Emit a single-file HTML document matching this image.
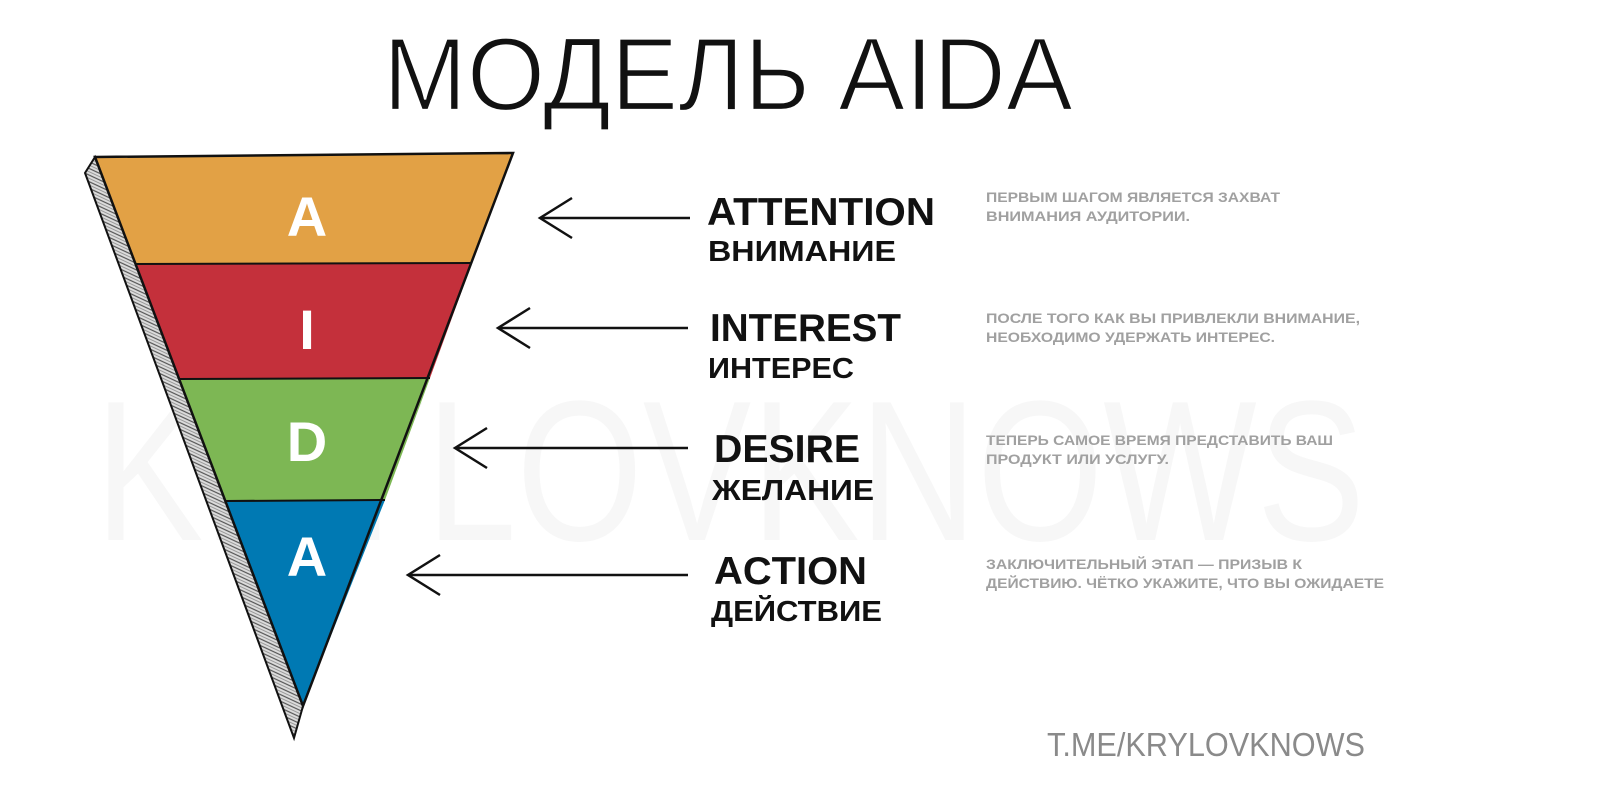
<!DOCTYPE html>
<html><head><meta charset="utf-8"><style>
html,body{margin:0;padding:0;background:#fff;}
svg{display:block;}
text{font-family:"Liberation Sans",sans-serif;}
</style></head><body>
<svg width="1600" height="806" viewBox="0 0 1600 806" xmlns="http://www.w3.org/2000/svg">
<defs>
<pattern id="hatch" width="6" height="6" patternUnits="userSpaceOnUse" patternTransform="rotate(25)">
<rect width="6" height="6" fill="#ddd"/>
<line x1="0" y1="1" x2="6" y2="1" stroke="#555" stroke-width="1.2"/>
<line x1="0" y1="4" x2="6" y2="4" stroke="#888" stroke-width="0.8"/>
</pattern>
</defs>
<text x="95" y="540" font-size="200" fill="#f7f7f7" textLength="1270" lengthAdjust="spacingAndGlyphs">KRYLOVKNOWS</text>
<text x="383" y="110" font-size="104" fill="#111" stroke="#fff" stroke-width="2.2" textLength="690" lengthAdjust="spacingAndGlyphs">МОДЕЛЬ AIDA</text>
<polygon points="95,157 85,173 294,738 303,706" fill="url(#hatch)" stroke="#111" stroke-width="2"/>
<polygon points="95,157 513,153 472,263 135,264" fill="#e2a145"/>
<polygon points="135,264 472,263 430,378 179,379" fill="#c4303b"/>
<polygon points="179,379 430,378 385,500 225,501" fill="#7db754"/>
<polygon points="225,501 385,500 303,706" fill="#0079b3"/>
<polygon points="95,157 513,153 303,706" fill="none" stroke="#111" stroke-width="2.5"/>
<g stroke="#111" stroke-width="2"><line x1="135" y1="264" x2="472" y2="263"/><line x1="179" y1="379" x2="430" y2="378"/><line x1="225" y1="501" x2="385" y2="500"/></g>
<g fill="#fff" font-weight="bold" font-size="56" text-anchor="middle">
<text x="307" y="236">A</text><text x="307" y="349">I</text><text x="307" y="461">D</text><text x="307" y="576">A</text>
</g>
<g stroke="#111" stroke-width="2.5" fill="none">
<line x1="690" y1="218" x2="540" y2="218"/><polyline points="572,198 540,218 572,238"/>
<line x1="688" y1="328" x2="498" y2="328"/><polyline points="530,308 498,328 530,348"/>
<line x1="688" y1="448" x2="455" y2="448"/><polyline points="487,428 455,448 487,468"/>
<line x1="688" y1="575" x2="408" y2="575"/><polyline points="440,555 408,575 440,595"/>
</g>
<g fill="#111" font-weight="bold">
<text x="707" y="225" font-size="39" textLength="228" lengthAdjust="spacingAndGlyphs">ATTENTION</text>
<text x="708" y="261" font-size="29" textLength="188" lengthAdjust="spacingAndGlyphs">ВНИМАНИЕ</text>
<text x="710" y="341" font-size="39" textLength="191" lengthAdjust="spacingAndGlyphs">INTEREST</text>
<text x="708" y="378" font-size="29" textLength="146" lengthAdjust="spacingAndGlyphs">ИНТЕРЕС</text>
<text x="714" y="462" font-size="39" textLength="146" lengthAdjust="spacingAndGlyphs">DESIRE</text>
<text x="712" y="500" font-size="29" textLength="162" lengthAdjust="spacingAndGlyphs">ЖЕЛАНИЕ</text>
<text x="714" y="584" font-size="39" textLength="153" lengthAdjust="spacingAndGlyphs">ACTION</text>
<text x="711" y="621" font-size="29" textLength="171" lengthAdjust="spacingAndGlyphs">ДЕЙСТВИЕ</text>
</g>
<g fill="#a0a0a0" font-size="14" font-weight="bold">
<text x="986" y="202" textLength="294" lengthAdjust="spacingAndGlyphs">ПЕРВЫМ ШАГОМ ЯВЛЯЕТСЯ ЗАХВАТ</text>
<text x="986" y="221" textLength="204" lengthAdjust="spacingAndGlyphs">ВНИМАНИЯ АУДИТОРИИ.</text>
<text x="986" y="323" textLength="374" lengthAdjust="spacingAndGlyphs">ПОСЛЕ ТОГО КАК ВЫ ПРИВЛЕКЛИ ВНИМАНИЕ,</text>
<text x="986" y="342" textLength="289" lengthAdjust="spacingAndGlyphs">НЕОБХОДИМО УДЕРЖАТЬ ИНТЕРЕС.</text>
<text x="986" y="445" textLength="347" lengthAdjust="spacingAndGlyphs">ТЕПЕРЬ САМОЕ ВРЕМЯ ПРЕДСТАВИТЬ ВАШ</text>
<text x="986" y="464" textLength="183" lengthAdjust="spacingAndGlyphs">ПРОДУКТ ИЛИ УСЛУГУ.</text>
<text x="986" y="569" textLength="316" lengthAdjust="spacingAndGlyphs">ЗАКЛЮЧИТЕЛЬНЫЙ ЭТАП — ПРИЗЫВ К</text>
<text x="986" y="588" textLength="398" lengthAdjust="spacingAndGlyphs">ДЕЙСТВИЮ. ЧЁТКО УКАЖИТЕ, ЧТО ВЫ ОЖИДАЕТЕ</text>
</g>
<text x="1047" y="756" font-size="33" fill="#8a8a8a" textLength="318" lengthAdjust="spacingAndGlyphs">T.ME/KRYLOVKNOWS</text>
</svg>
</body></html>
